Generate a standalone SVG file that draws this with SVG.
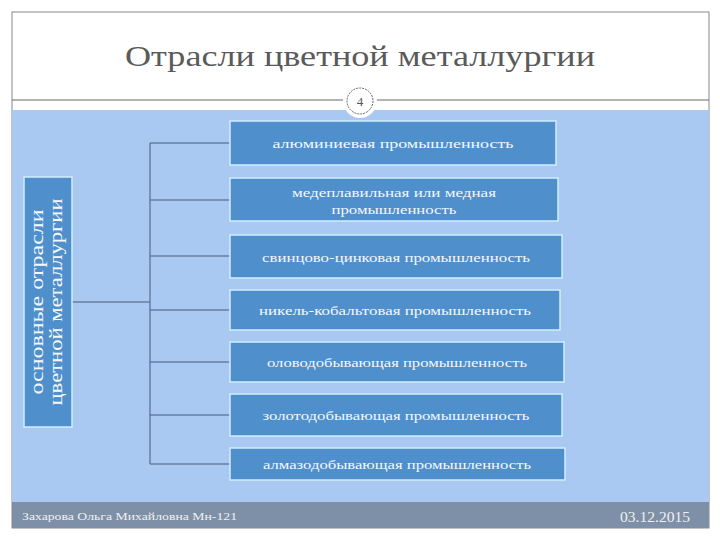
<svg xmlns="http://www.w3.org/2000/svg" width="720" height="540" viewBox="0 0 720 540">
<style>
.b{fill:#4f8fcb;stroke:#cfeefd;stroke-width:1.5}
.t{font-family:"Liberation Serif",serif;font-size:13px;fill:#f4f8fc;text-anchor:middle}
.c{stroke:#4a5a7a;stroke-width:1;fill:none}
</style>
<rect width="720" height="540" fill="#fff"/>
<rect x="12" y="12" width="697" height="516" fill="#fff" stroke="#888" stroke-width="1"/>
<text x="360" y="66" font-family="Liberation Serif,serif" font-size="30" fill="#5a5a5a" text-anchor="middle" textLength="470" lengthAdjust="spacingAndGlyphs">Отрасли цветной металлургии</text>
<line x1="12" y1="100" x2="709" y2="100" stroke="#666" stroke-width="1"/>
<rect x="12" y="110" width="697" height="392" fill="#a9c8f2"/>
<rect x="12" y="502" width="697" height="26" fill="#7e8fa8"/>
<g id="badge"><circle cx="360" cy="101" r="17" fill="#fff"/><circle cx="360" cy="101" r="13" fill="#fff" stroke="#666" stroke-dasharray="2 1"/><text x="360" y="106" font-family="Liberation Serif,serif" font-size="13" fill="#555" text-anchor="middle">4</text></g>
<g id="connectors" class="c">
<line x1="72" y1="302" x2="150" y2="302"/>
<line x1="150" y1="143" x2="150" y2="464"/>
<line x1="150" y1="143" x2="230" y2="143"/>
<line x1="150" y1="200" x2="230" y2="200"/>
<line x1="150" y1="256" x2="230" y2="256"/>
<line x1="150" y1="310" x2="230" y2="310"/>
<line x1="150" y1="362" x2="230" y2="362"/>
<line x1="150" y1="415" x2="230" y2="415"/>
<line x1="150" y1="464" x2="230" y2="464"/>
</g>
<g id="root"><rect class="b" x="24" y="177" width="48" height="250"/>
<text class="t" transform="translate(48 302) rotate(-90)" style="font-size:18px" lengthAdjust="spacingAndGlyphs"><tspan x="0" y="-5" textLength="185" lengthAdjust="spacingAndGlyphs">основные отрасли</tspan><tspan x="0" y="14" textLength="207" lengthAdjust="spacingAndGlyphs">цветной металлургии</tspan></text></g>
<g id="n1"><rect class="b" x="230" y="121" width="326" height="44"/><text class="t" x="393" y="148" textLength="241" lengthAdjust="spacingAndGlyphs">алюминиевая промышленность</text></g>
<g id="n2"><rect class="b" x="230" y="178" width="328" height="43"/><text class="t" x="394" y="197" textLength="204" lengthAdjust="spacingAndGlyphs">медеплавильная или медная</text><text class="t" x="394" y="214" textLength="125" lengthAdjust="spacingAndGlyphs">промышленность</text></g>
<g id="n3"><rect class="b" x="230" y="235" width="332" height="43"/><text class="t" x="396" y="262" textLength="268" lengthAdjust="spacingAndGlyphs">свинцово-цинковая промышленность</text></g>
<g id="n4"><rect class="b" x="230" y="290" width="330" height="40"/><text class="t" x="395" y="315" textLength="272" lengthAdjust="spacingAndGlyphs">никель-кобальтовая промышленность</text></g>
<g id="n5"><rect class="b" x="230" y="342" width="334" height="40"/><text class="t" x="397" y="367" textLength="260" lengthAdjust="spacingAndGlyphs">оловодобывающая промышленность</text></g>
<g id="n6"><rect class="b" x="230" y="394" width="332" height="42"/><text class="t" x="396" y="420" textLength="267" lengthAdjust="spacingAndGlyphs">золотодобывающая промышленность</text></g>
<g id="n7"><rect class="b" x="230" y="448" width="335" height="32"/><text class="t" x="397" y="469" textLength="268" lengthAdjust="spacingAndGlyphs">алмазодобывающая промышленность</text></g>
<text x="22" y="520" font-family="Liberation Serif,serif" font-size="11" fill="#f0f0f0" textLength="215" lengthAdjust="spacingAndGlyphs">Захарова Ольга Михайловна Мн-121</text>
<text x="620" y="522" font-family="Liberation Serif,serif" font-size="14" fill="#f0f0f0" textLength="70" lengthAdjust="spacingAndGlyphs">03.12.2015</text>
</svg>
